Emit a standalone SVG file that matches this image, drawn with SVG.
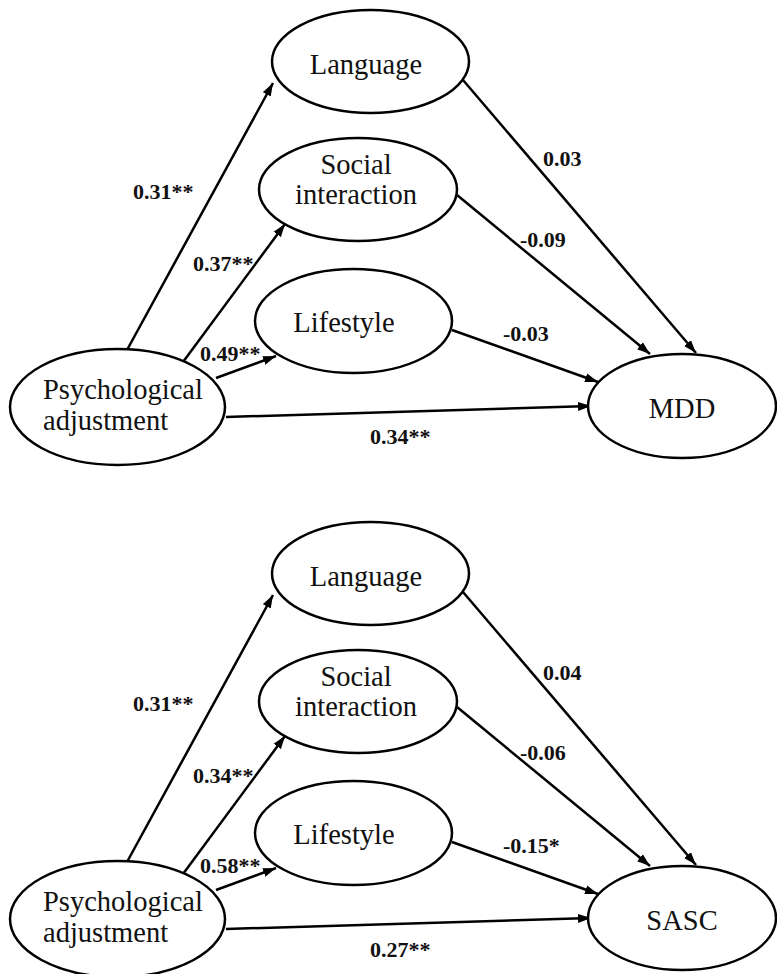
<svg xmlns="http://www.w3.org/2000/svg" width="777" height="974" viewBox="0 0 777 974">
<style>
.node ellipse{fill:#fff;stroke:#000;stroke-width:2.5}
.node text{font-family:"Liberation Serif","Times New Roman",serif;font-size:28.5px;fill:#111}
.edge line{stroke:#000;stroke-width:2.5;marker-end:url(#arr)}
.lbl{font-family:"Liberation Serif","Times New Roman",serif;font-size:22px;font-weight:bold;fill:#111}
</style>
<defs>
<marker id="arr" markerUnits="userSpaceOnUse" markerWidth="14" markerHeight="10" refX="13" refY="5" orient="auto">
<path d="M0,0.5 L13,5 L0,9.5 z" fill="#000"/>
</marker>
</defs>
<rect width="777" height="974" fill="#fff"/>

<g id="panel-a">
<g id="connectors-a" class="edge">
<line x1="127" y1="350" x2="273" y2="83"/>
<line x1="183" y1="362" x2="285" y2="224"/>
<line x1="216" y1="378" x2="276" y2="356"/>
<line x1="226" y1="417" x2="591" y2="406"/>
<line x1="463" y1="80" x2="696" y2="353"/>
<line x1="457" y1="195" x2="650" y2="354"/>
<line x1="452" y1="330" x2="598" y2="382"/>
<text class="lbl" x="133" y="199">0.31**</text>
<text class="lbl" x="193" y="271">0.37**</text>
<text class="lbl" x="200" y="361">0.49**</text>
<text class="lbl" x="370" y="444">0.34**</text>
<text class="lbl" x="543" y="166">0.03</text>
<text class="lbl" x="520" y="247">-0.09</text>
<text class="lbl" x="503" y="341">-0.03</text>
</g>
<g id="language-a" class="node"><ellipse cx="370.5" cy="61.5" rx="98.5" ry="51.5"/><text x="366" y="74" text-anchor="middle">Language</text></g>
<g id="social-a" class="node"><ellipse cx="358" cy="189.5" rx="99" ry="51.5"/><text x="356" y="174" text-anchor="middle">Social</text><text x="356" y="204" text-anchor="middle">interaction</text></g>
<g id="lifestyle-a" class="node"><ellipse cx="353.5" cy="321" rx="98.5" ry="52"/><text x="344" y="332" text-anchor="middle">Lifestyle</text></g>
<g id="psych-a" class="node"><ellipse cx="117.5" cy="407" rx="107.5" ry="58"/><text x="43" y="399">Psychological</text><text x="43" y="430">adjustment</text></g>
<g id="mdd" class="node"><ellipse cx="682" cy="406" rx="94" ry="52"/><text x="682" y="418" text-anchor="middle">MDD</text></g>
</g>

<g id="panel-b" transform="translate(0,512)">
<g id="connectors-b" class="edge">
<line x1="127" y1="350" x2="273" y2="83"/>
<line x1="183" y1="362" x2="285" y2="224"/>
<line x1="216" y1="378" x2="276" y2="356"/>
<line x1="226" y1="417" x2="591" y2="406"/>
<line x1="463" y1="80" x2="696" y2="353"/>
<line x1="457" y1="195" x2="650" y2="354"/>
<line x1="452" y1="330" x2="598" y2="382"/>
<text class="lbl" x="133" y="199">0.31**</text>
<text class="lbl" x="193" y="271">0.34**</text>
<text class="lbl" x="200" y="361">0.58**</text>
<text class="lbl" x="370" y="445">0.27**</text>
<text class="lbl" x="543" y="168">0.04</text>
<text class="lbl" x="520" y="248">-0.06</text>
<text class="lbl" x="503" y="341">-0.15*</text>
</g>
<g id="language-b" class="node"><ellipse cx="370.5" cy="61.5" rx="98.5" ry="51.5"/><text x="366" y="74" text-anchor="middle">Language</text></g>
<g id="social-b" class="node"><ellipse cx="358" cy="189.5" rx="99" ry="51.5"/><text x="356" y="174" text-anchor="middle">Social</text><text x="356" y="204" text-anchor="middle">interaction</text></g>
<g id="lifestyle-b" class="node"><ellipse cx="353.5" cy="321" rx="98.5" ry="52"/><text x="344" y="332" text-anchor="middle">Lifestyle</text></g>
<g id="psych-b" class="node"><ellipse cx="117.5" cy="407" rx="107.5" ry="58"/><text x="43" y="399">Psychological</text><text x="43" y="430">adjustment</text></g>
<g id="sasc" class="node"><ellipse cx="682" cy="406" rx="94" ry="52"/><text x="682" y="418" text-anchor="middle">SASC</text></g>
</g>
</svg>
